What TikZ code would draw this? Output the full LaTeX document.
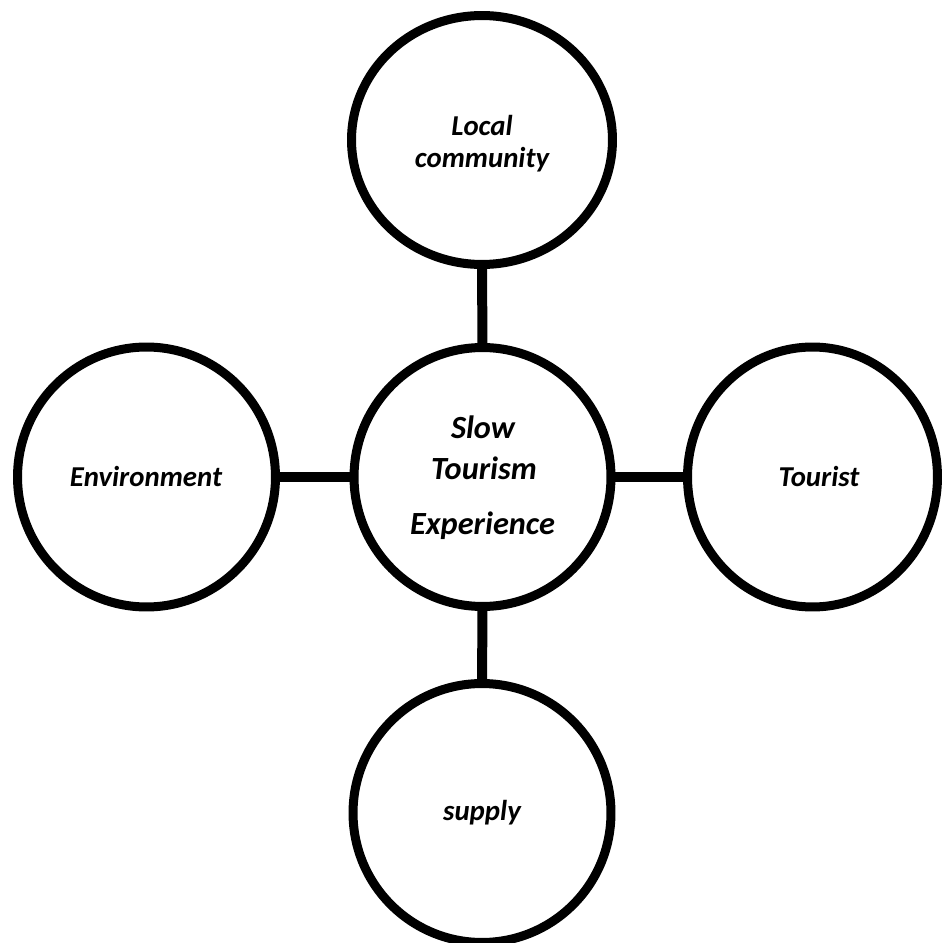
\documentclass[tikz,border=0pt]{standalone}
\usepackage{fontspec}
\setmainfont{Carlito}
\usetikzlibrary{shapes.geometric}
\tikzset{
  ring/.style={ellipse, draw=black, line width=0.18cm, fill=white, inner sep=0pt, outer sep=0pt},
  conn/.style={draw=black, line width=0.2cm},
  lbl/.style={anchor=base, inner sep=0pt, font=\fontsize{16.4}{18}\selectfont\bfseries\itshape},
  biglbl/.style={anchor=base, inner sep=0pt, font=\fontsize{18.4}{20}\selectfont\bfseries\itshape}
}
\begin{document}
\begin{tikzpicture}[x=0.02cm, y=-0.02cm]
\useasboundingbox (0,0) rectangle (944,943);
% connectors first (behind rings)
\coordinate (pTop) at (482,140);
\coordinate (pCtr) at (482.5,477);
\coordinate (pLeft) at (146.5,477);
\coordinate (pRight) at (812.5,477);
\coordinate (pBot) at (482,813);
% rings
\node[ring, minimum width=5.22cm, minimum height=4.98cm] (top) at (pTop) {};
\node[ring, minimum width=5.14cm, minimum height=5.18cm] (ctr) at (pCtr) {};
\node[ring, minimum width=5.16cm, minimum height=5.20cm] (left) at (pLeft) {};
\node[ring, minimum width=5.00cm, minimum height=5.20cm] (right) at (pRight) {};
\node[ring, minimum width=5.16cm, minimum height=5.18cm] (bot) at (pBot) {};
% connectors
\draw[conn] (top) -- (ctr);
\draw[conn] (ctr) -- (bot);
\draw[conn] (left) -- (ctr);
\draw[conn] (ctr) -- (right);
% labels
\node[lbl] (tLocal) at (482,135) {Local};
\node[lbl] (tComm) at (482,167) {community};
\node[biglbl] (tSlow) at (483,438) {Slow};
\node[biglbl] (tTour) at (484,479) {Tourism};
\node[biglbl] (tExp) at (482.5,534) {Experience};
\node[lbl] (tEnv) at (146,486) {Environment};
\node[lbl] (tTourist) at (819,486) {Tourist};
\node[lbl] (tSupply) at (482,820) {supply};
\end{tikzpicture}
\end{document}
